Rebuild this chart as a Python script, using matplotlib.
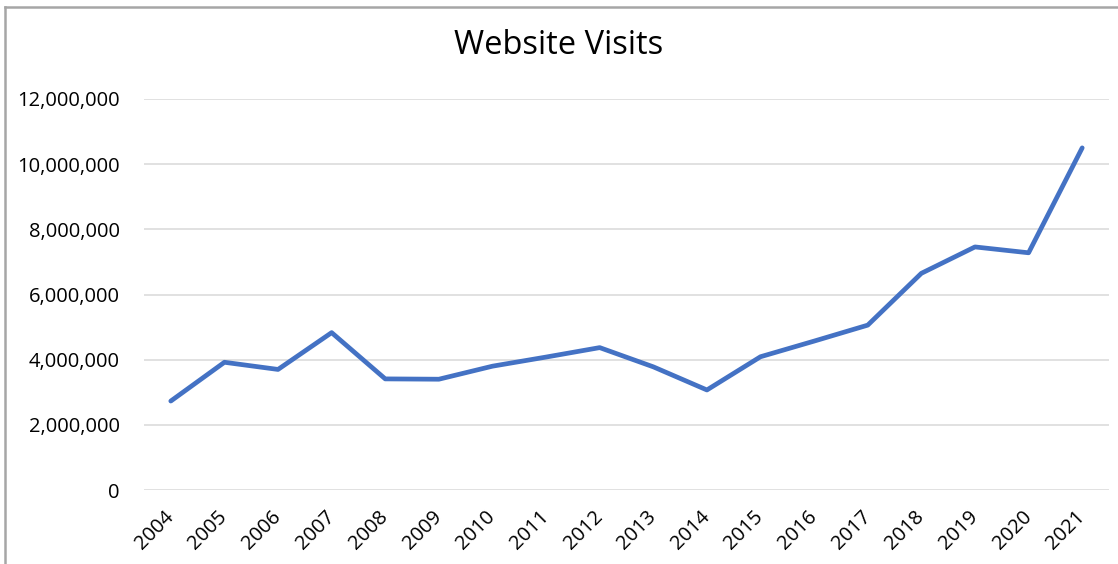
import matplotlib

matplotlib.use("Agg")
import matplotlib.pyplot as plt
from matplotlib.lines import Line2D
from matplotlib.ticker import FuncFormatter, MultipleLocator

# Data
years = [str(y) for y in range(2004, 2022)]
visits = [
    2730000, 3920000, 3700000, 4830000, 3410000, 3400000,
    3800000, 4080000, 4370000, 3780000, 3070000, 4090000,
    4570000, 5060000, 6650000, 7460000, 7280000, 10500000,
]
title = "Website Visits"

plt.rcParams["font.family"] = ["Open Sans", "DejaVu Sans"]

fig = plt.figure(figsize=(11.18, 5.64), dpi=100)
ax = fig.add_axes([144 / 1118, 1 - 490 / 564, (1109 - 144) / 1118, (490 - 99) / 564])

x = range(len(years))
ax.plot(x, visits, color="#4472C4", lw=3.4, solid_joinstyle="round",
        solid_capstyle="round", zorder=3)

ax.set_xlim(-0.5, len(years) - 0.5)
ax.set_ylim(0, 12_000_000)
ax.yaxis.set_major_locator(MultipleLocator(2_000_000))
ax.yaxis.set_major_formatter(FuncFormatter(lambda v, _: f"{v:,.0f}"))
ax.grid(axis="y", color="#D9D9D9", lw=1.1, zorder=0)
ax.set_axisbelow(True)
for s in ax.spines.values():
    s.set_visible(False)

ax.set_xticks(list(x))
ax.set_xticklabels(years, rotation=45, ha="right", va="center",
                   rotation_mode="anchor", fontsize=14.5)
ax.tick_params(axis="x", length=0, pad=17)
ax.tick_params(axis="y", length=0, pad=17.5, labelsize=14.5)

fig.text(0.5, 1 - 45 / 564, title, ha="center", va="center", fontsize=23.5)

# chart frame (left and top edges visible)
fig.add_artist(Line2D([5 / 1118, 5 / 1118], [0, 1 - 7 / 564],
                      transform=fig.transFigure, color="#A6A6A6", lw=1.8))
fig.add_artist(Line2D([5 / 1118, 1], [1 - 7 / 564, 1 - 7 / 564],
                      transform=fig.transFigure, color="#A6A6A6", lw=1.8))

fig.savefig("out.png", dpi=100)
